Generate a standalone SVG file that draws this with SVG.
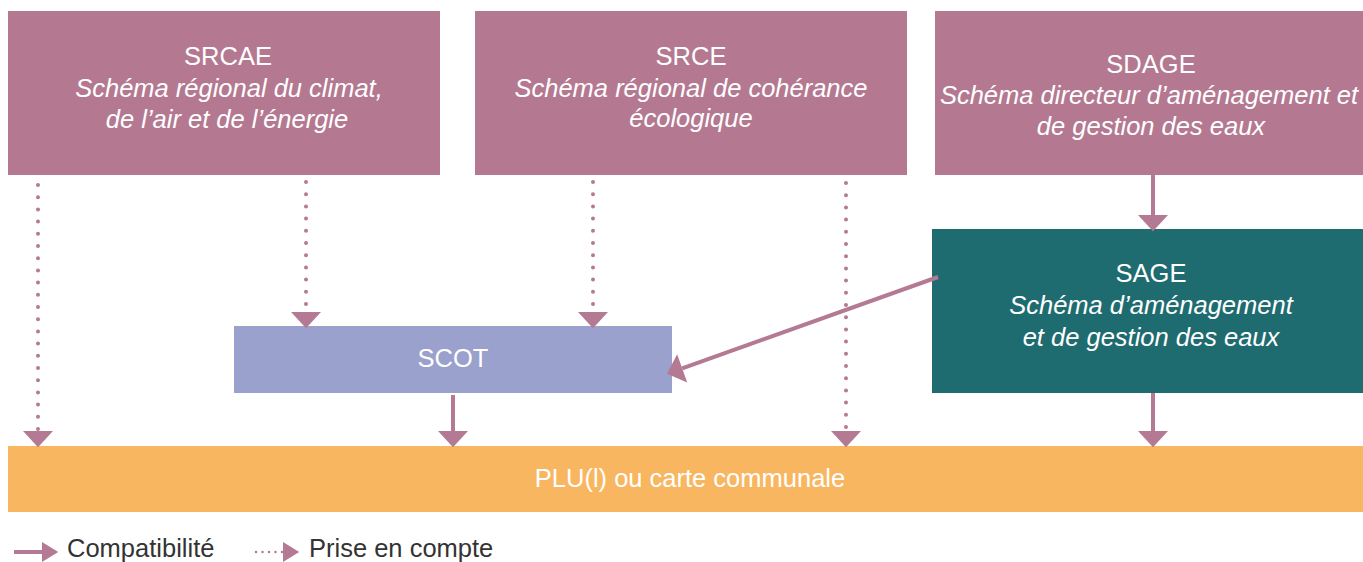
<svg xmlns="http://www.w3.org/2000/svg" width="1363" height="562" viewBox="0 0 1363 562">
<style>
.t{font-family:"Liberation Sans",Arial,sans-serif;fill:#fff;text-anchor:middle;font-size:25.5px}
.i{font-style:italic}
.lg{font-family:"Liberation Sans",Arial,sans-serif;fill:#333;font-size:25.5px}
.mauve{fill:#b47991}
.sol{stroke:#b47a93;stroke-width:4;fill:none}
.dot{stroke:#b47a93;stroke-width:4;fill:none;stroke-linecap:round;stroke-dasharray:0 12.2}
</style>
<defs>
<marker id="ah" markerUnits="userSpaceOnUse" markerWidth="30" markerHeight="30" viewBox="0 -13 14 26" refX="0" refY="0" orient="auto" overflow="visible">
<path d="M0,-13 L14,0 L0,13 z" fill="#b47a93"/>
</marker>
<marker id="ahs" markerUnits="userSpaceOnUse" markerWidth="20" markerHeight="20" viewBox="0 -8 13 16" refX="0" refY="0" orient="auto" overflow="visible">
<path d="M0,-8 L13,0 L0,8 z" fill="#b47a93"/>
</marker>
</defs>
<rect width="1363" height="562" fill="#fff"/>
<g id="srcae">
<rect x="8" y="11" width="432" height="164" class="mauve"/>
<text class="t" x="228" y="65">SRCAE</text>
<text class="t i" x="229" y="97">Schéma régional du climat,</text>
<text class="t i" x="227" y="128">de l’air et de l’énergie</text>
</g>
<g id="srce">
<rect x="475" y="11" width="432" height="164" class="mauve"/>
<text class="t" x="691" y="65">SRCE</text>
<text class="t i" x="691" y="97">Schéma régional de cohérance</text>
<text class="t i" x="691" y="127">écologique</text>
</g>
<g id="sdage">
<rect x="935" y="11" width="428" height="164" class="mauve"/>
<text class="t" x="1151" y="73">SDAGE</text>
<text class="t i" x="1149" y="104">Schéma directeur d’aménagement et</text>
<text class="t i" x="1151" y="135">de gestion des eaux</text>
</g>
<g id="sage">
<rect x="932" y="229" width="431" height="164" fill="#1f6c70"/>
<text class="t" x="1151" y="282">SAGE</text>
<text class="t i" x="1151" y="314">Schéma d’aménagement</text>
<text class="t i" x="1151" y="346">et de gestion des eaux</text>
</g>
<g id="scot">
<rect x="234" y="326" width="438" height="67" fill="#9aa1cc"/>
<text class="t" x="453" y="367">SCOT</text>
</g>
<g id="plu">
<rect x="8" y="446" width="1355" height="66" fill="#f9b660"/>
<text class="t" x="690" y="487">PLU(l) ou carte communale</text>
</g>
<g id="connectors">
<path class="sol" d="M1153,175 V215" marker-end="url(#ah)"/>
<path class="sol" d="M453,395 V431" marker-end="url(#ah)"/>
<path class="sol" d="M1153,393 V431" marker-end="url(#ah)"/>
<path class="sol" d="M938,277 L682.2,368.3" marker-end="url(#ah)"/>
<path class="dot" d="M38,185 V431" marker-end="url(#ah)"/>
<path class="dot" d="M306,182 V312" marker-end="url(#ah)"/>
<path class="dot" d="M593,182 V312" marker-end="url(#ah)"/>
<path class="dot" d="M846,183 V431" marker-end="url(#ah)"/>
</g>
<g id="legend">
<path class="sol" d="M14,552 H42" stroke-width="2.5" marker-end="url(#ahs)"/>
<text class="lg" x="67" y="557">Compatibilité</text>
<path d="M256,552 H283" stroke="#b47a93" stroke-width="2.5" stroke-linecap="round" stroke-dasharray="0 6.5" fill="none" marker-end="url(#ahs)"/>
<text class="lg" x="309" y="557">Prise en compte</text>
</g>
</svg>
